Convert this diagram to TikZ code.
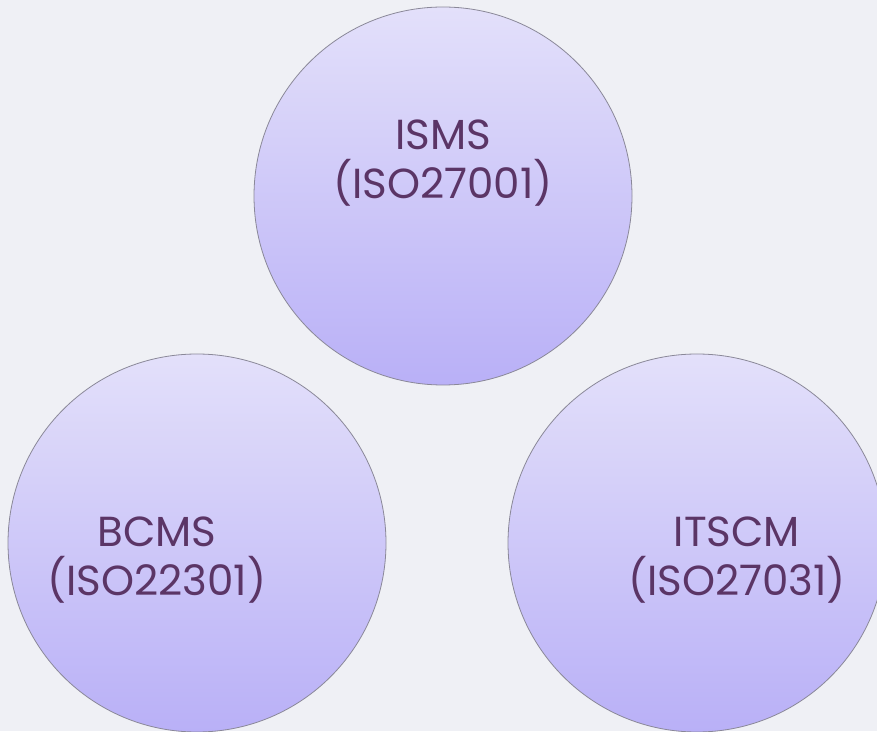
\documentclass[tikz,border=0pt]{standalone}
\usepackage{fontspec}
\setmainfont{Poppins}
\usetikzlibrary{shapes.geometric}
\definecolor{bgc}{HTML}{EFF0F5}
\definecolor{topc}{HTML}{E3E0FA}
\definecolor{botc}{HTML}{B9B0F7}
\definecolor{edgec}{HTML}{8A8898}
\definecolor{txtc}{HTML}{5B3566}
\tikzset{
  ball/.style={circle, minimum size=378pt, inner sep=0pt, draw=edgec, line width=0.8pt,
    top color=topc, bottom color=botc},
  lbl/.style={text=txtc, font=\fontsize{42}{49}\selectfont, align=center, inner sep=0pt}
}
\begin{document}
\begin{tikzpicture}[x=1pt,y=1pt]
\useasboundingbox (0,0) rectangle (877,731);
\clip (0,0) rectangle (877,731);
\fill[bgc] (0,0) rectangle (877,731);
\node[ball] (isms) at (443,535) {};
\node[ball] (bcms) at (197,188) {};
\node[ball] (itscm) at (697,188) {};
\node[lbl] (tisms) at ([xshift=0pt,yshift=33pt]isms.center) {ISMS\\(ISO27001)};
\node[lbl] (tbcms) at ([xshift=-40pt,yshift=-17pt]bcms.center) {BCMS\\(ISO22301)};
\node[lbl] (titscm) at ([xshift=40pt,yshift=-17pt]itscm.center) {ITSCM\\(ISO27031)};
\end{tikzpicture}
\end{document}
